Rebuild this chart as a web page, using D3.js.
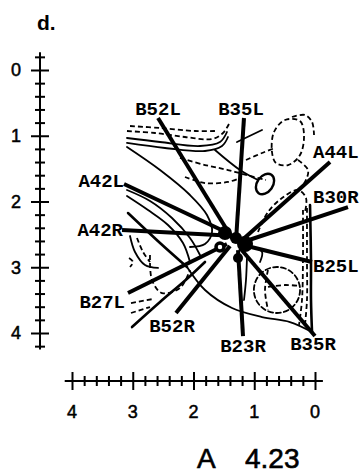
<!DOCTYPE html>
<html>
<head>
<meta charset="utf-8">
<script src="https://cdn.jsdelivr.net/npm/d3@7"></script>
<style>
  html, body { margin: 0; padding: 0; background: #fff; }
  svg { display: block; }
</style>
</head>
<body>
<svg id="chart" width="360" height="476"></svg>
<script>
// Axis ticks (mm)
const yTickLabels = [0, 1, 2, 3, 4];
const xTickLabels = [4, 3, 2, 1, 0];

// Electrode tracks: outer end and inner end, in axis units
const trackNames = ["B52L", "B35L", "A44L", "B30R", "B25L", "B35R", "B23R", "B52R", "B27L", "A42R", "A42L"];
const trackOuter = [
  [2.584, 0.730], [1.169, 0.730], [-0.247, 1.399], [-0.543, 2.084], [0.049, 2.920], [0.000, 4.046],
  [1.185, 4.046], [2.288, 3.696], [3.078, 3.392], [3.177, 2.433], [3.144, 1.734]
];
const trackInner = [
  [1.366, 2.555], [1.300, 2.586], [1.235, 2.616], [1.185, 2.616], [1.185, 2.662], [1.235, 2.707],
  [1.267, 2.738], [1.399, 2.677], [1.449, 2.646], [1.300, 2.525], [1.399, 2.494]
];

// Recording sites near the convergence point
const sites = [[1.481, 2.479], [1.300, 2.555], [1.152, 2.646], [1.564, 2.692], [1.267, 2.859]];

// Solid iso-contours
const solidContours = [
  [[3.095, 1.034], [2.551, 1.095], [1.893, 1.156], [1.564, 1.095], [1.449, 0.943]],
  [[3.095, 1.110], [2.469, 1.186], [1.811, 1.232], [1.531, 1.156], [1.432, 1.019]],
  [[3.095, 1.171], [2.551, 1.521], [2.058, 1.901], [1.778, 2.205], [1.695, 2.464], [1.811, 2.646], [2.058, 2.692]],
  [[3.095, 1.825], [2.716, 1.992], [2.354, 2.251], [2.058, 2.555], [1.893, 2.814]],
  [[3.095, 1.916], [2.749, 2.129], [2.420, 2.357], [2.173, 2.631], [2.058, 2.920]],
  [[3.045, 2.525], [2.963, 2.768], [2.798, 2.966], [2.584, 3.011]],
  [[2.107, 2.996], [1.811, 3.346], [1.366, 3.620], [0.872, 3.757], [0.412, 3.833], [0.049, 3.985]],
  [[1.284, 1.095], [0.872, 0.913]],
  [[1.646, 1.217], [1.235, 1.521], [0.938, 1.673]],
  [[1.021, 2.692], [0.872, 2.768], [0.905, 2.920]],
  [[1.119, 2.829], [1.136, 3.194], [1.169, 3.498]]
];
// Heavier solid traces
const heavyContours = [
  [[3.078, 2.175], [2.551, 2.631], [2.107, 2.996]],
  [[3.012, 3.909], [2.551, 3.529], [2.091, 3.163], [1.811, 2.920]],
  [[0.082, 2.053], [0.066, 2.890], [0.066, 3.498], [0.049, 3.985]]
];
// Dashed iso-contours
const dashedContours = [
  [[3.095, 0.928], [2.634, 0.958], [2.140, 1.019], [1.695, 1.049], [1.514, 0.958], [1.416, 0.821]],
  [[3.045, 0.852], [2.551, 0.882], [1.975, 0.928], [1.646, 0.928]],
  [[2.222, 1.338], [1.811, 1.445], [1.432, 1.521], [1.070, 1.612], [0.807, 1.673]],
  [[2.140, 1.627], [1.811, 1.719], [1.432, 1.703], [1.235, 1.643]],
  [[1.136, 1.369], [0.872, 1.262], [0.658, 1.186]],
  [[0.379, 0.715], [0.165, 0.684], [0.049, 0.791], [0.016, 0.989]],
  [[0.280, 1.369], [0.115, 1.521], [0.165, 1.703], [0.280, 1.825]],
  [[0.938, 2.464], [0.774, 2.160], [0.543, 1.947], [0.280, 1.825], [0.148, 1.947], [0.165, 2.160]],
  [[0.198, 2.129], [0.198, 2.890], [0.214, 3.498], [0.263, 3.878]],
  [[0.132, 2.099], [0.132, 2.890], [0.132, 3.498], [0.165, 3.878]],
  [[0.774, 3.300], [0.494, 3.270], [0.247, 3.285]],
  [[0.774, 3.042], [0.823, 3.346], [0.774, 3.650]],
  [[2.930, 2.555], [2.831, 2.768], [2.716, 2.920]],
  [[3.061, 2.859], [2.996, 2.920], [3.045, 2.996]],
  [[2.716, 2.814], [2.683, 3.194], [2.519, 3.392], [2.222, 3.316], [2.058, 3.042]],
  [[3.029, 3.544], [2.667, 3.483]],
  [[3.029, 3.696], [2.716, 3.605]]
];
// Closed dashed loops
const dashedLoops = [
  [[0.708, 1.247], [0.675, 0.943], [0.494, 0.760], [0.247, 0.776], [0.181, 0.989], [0.247, 1.293], [0.444, 1.445], [0.642, 1.414]]
];
// Elliptical contours: centre, radii (axis units), rotation
const ellipses = [
  { c: [0.823, 1.734], r: [0.13, 0.17], rot: 35, dashed: false },
  { c: [0.626, 3.346], r: [0.38, 0.35], rot: 0, dashed: true }
];

const svg = d3.select("#chart");
const x = d3.scaleLinear().domain([4, 0]).range([72, 315]);
const y = d3.scaleLinear().domain([0, 4]).range([70, 333]);

const line = d3.line().x(d => x(d[0])).y(d => y(d[1])).curve(d3.curveCatmullRom.alpha(0.5));
const loop = d3.line().x(d => x(d[0])).y(d => y(d[1])).curve(d3.curveCatmullRomClosed.alpha(0.5));
const isMajor = d => Math.abs(d - Math.round(d)) < 1e-6;

// Vertical axis
const yAxisX = 40;
const gy = svg.append("g").attr("transform", `translate(${yAxisX},0)`)
  .call(d3.axisLeft(y).tickValues(d3.range(-1, 22).map(i => i * 0.2)).tickFormat(""));
gy.select(".domain").remove();
gy.selectAll(".tick line")
  .attr("x1", d => isMajor(d) ? -9 : -5)
  .attr("x2", d => isMajor(d) ? 9 : 5)
  .attr("stroke", "#000").attr("stroke-width", 2);
gy.append("line").attr("y1", y(-0.27)).attr("y2", y(4.25)).attr("stroke", "#000").attr("stroke-width", 2);

// Horizontal axis
const xAxisY = 381;
const gx = svg.append("g").attr("transform", `translate(0,${xAxisY})`)
  .call(d3.axisBottom(x).tickValues(d3.range(0, 21).map(i => i * 0.2)).tickFormat(""));
gx.select(".domain").remove();
gx.selectAll(".tick line")
  .attr("y1", d => isMajor(d) ? -9 : -5)
  .attr("y2", d => isMajor(d) ? 9 : 5)
  .attr("stroke", "#000").attr("stroke-width", 2);
gx.append("line").attr("x1", x(4.12)).attr("x2", x(-0.13)).attr("stroke", "#000").attr("stroke-width", 2);

// Tick labels
const tickFont = "'Liberation Sans', Arial, sans-serif";
svg.append("g").selectAll("text").data(yTickLabels).join("text")
  .attr("x", 21).attr("y", d => y(d)).attr("dy", "0.36em")
  .attr("text-anchor", "end").attr("font-family", tickFont).attr("font-size", 18)
  .attr("stroke", "#000").attr("stroke-width", 0.5)
  .text(d => d);
svg.append("g").selectAll("text").data(xTickLabels).join("text")
  .attr("x", d => x(d)).attr("y", 412).attr("dy", "0.36em")
  .attr("text-anchor", "middle").attr("font-family", tickFont).attr("font-size", 18)
  .attr("stroke", "#000").attr("stroke-width", 0.5)
  .text(d => d);

// Contours
const plot = svg.append("g").attr("fill", "none").attr("stroke", "#000").attr("stroke-linecap", "round");
plot.selectAll("path.solid").data(solidContours).join("path").attr("class", "solid")
  .attr("d", line).attr("stroke-width", 1.8);
plot.selectAll("path.heavy").data(heavyContours).join("path").attr("class", "heavy")
  .attr("d", line).attr("stroke-width", 2.6);
plot.selectAll("path.dashed").data(dashedContours).join("path").attr("class", "dashed")
  .attr("d", line).attr("stroke-width", 1.8).attr("stroke-dasharray", "5,3").attr("stroke-linecap", "butt");
plot.selectAll("path.dloop").data(dashedLoops).join("path").attr("class", "dloop")
  .attr("d", loop).attr("stroke-width", 1.8).attr("stroke-dasharray", "5,3").attr("stroke-linecap", "butt");
plot.selectAll("ellipse").data(ellipses).join("ellipse")
  .attr("cx", d => x(d.c[0])).attr("cy", d => y(d.c[1]))
  .attr("rx", d => Math.abs(x(d.r[0]) - x(0))).attr("ry", d => Math.abs(y(d.r[1]) - y(0)))
  .attr("transform", d => `rotate(${d.rot},${x(d.c[0])},${y(d.c[1])})`)
  .attr("stroke-width", d => d.dashed ? 1.8 : 2.4)
  .attr("stroke-dasharray", d => d.dashed ? "5,3" : null);

// Tracks
const tracks = trackNames.map((name, i) => ({ name, outer: trackOuter[i], inner: trackInner[i] }));
svg.append("g").selectAll("line").data(tracks).join("line")
  .attr("x1", d => x(d.outer[0])).attr("y1", d => y(d.outer[1]))
  .attr("x2", d => x(d.inner[0])).attr("y2", d => y(d.inner[1]))
  .attr("stroke", "#000").attr("stroke-width", 4).attr("stroke-linecap", "butt");

// Site markers (the smaller left one is drawn as a thick ring)
const siteRadius = [7, 6, 8, 4, 5];
svg.append("g").selectAll("circle").data(sites).join("circle")
  .attr("cx", d => x(d[0])).attr("cy", d => y(d[1]))
  .attr("r", (d, i) => siteRadius[i])
  .attr("fill", (d, i) => i === 3 ? "#fff" : "#000")
  .attr("stroke", "#000").attr("stroke-width", (d, i) => i === 3 ? 3.5 : 0);

// Track labels, placed relative to each outer end
const labelPlace = {
  B52L: [0, -3, "middle"], B35L: [-3, -3, "middle"], A44L: [-17, -4, "start"], B30R: [-35, -4, "start"],
  B25L: [1, 10, "start"], B35R: [-2, 14, "middle"], B23R: [0, 16, "middle"], B52R: [-4, 19, "middle"],
  B27L: [-3, 15, "end"], A42R: [1, 6, "end"], A42L: [0, 3, "end"]
};
svg.append("g").selectAll("text").data(tracks).join("text")
  .attr("x", d => x(d.outer[0]) + labelPlace[d.name][0])
  .attr("y", d => y(d.outer[1]) + labelPlace[d.name][1])
  .attr("text-anchor", d => labelPlace[d.name][2])
  .attr("font-family", "'Liberation Mono', 'Courier New', monospace")
  .attr("font-weight", "bold").attr("font-size", 19)
  .text(d => d.name);

// Panel letter and caption
svg.append("text").attr("x", 37).attr("y", 30)
  .attr("font-family", tickFont).attr("font-weight", "bold").attr("font-size", 21).text("d.");
svg.append("text").attr("x", 197).attr("y", 468)
  .attr("font-family", tickFont).attr("font-size", 28).attr("stroke", "#000").attr("stroke-width", 0.6).text("A");
svg.append("text").attr("x", 245).attr("y", 468)
  .attr("font-family", tickFont).attr("font-size", 28).attr("stroke", "#000").attr("stroke-width", 0.6).text("4.23");
</script>
</body>
</html>
